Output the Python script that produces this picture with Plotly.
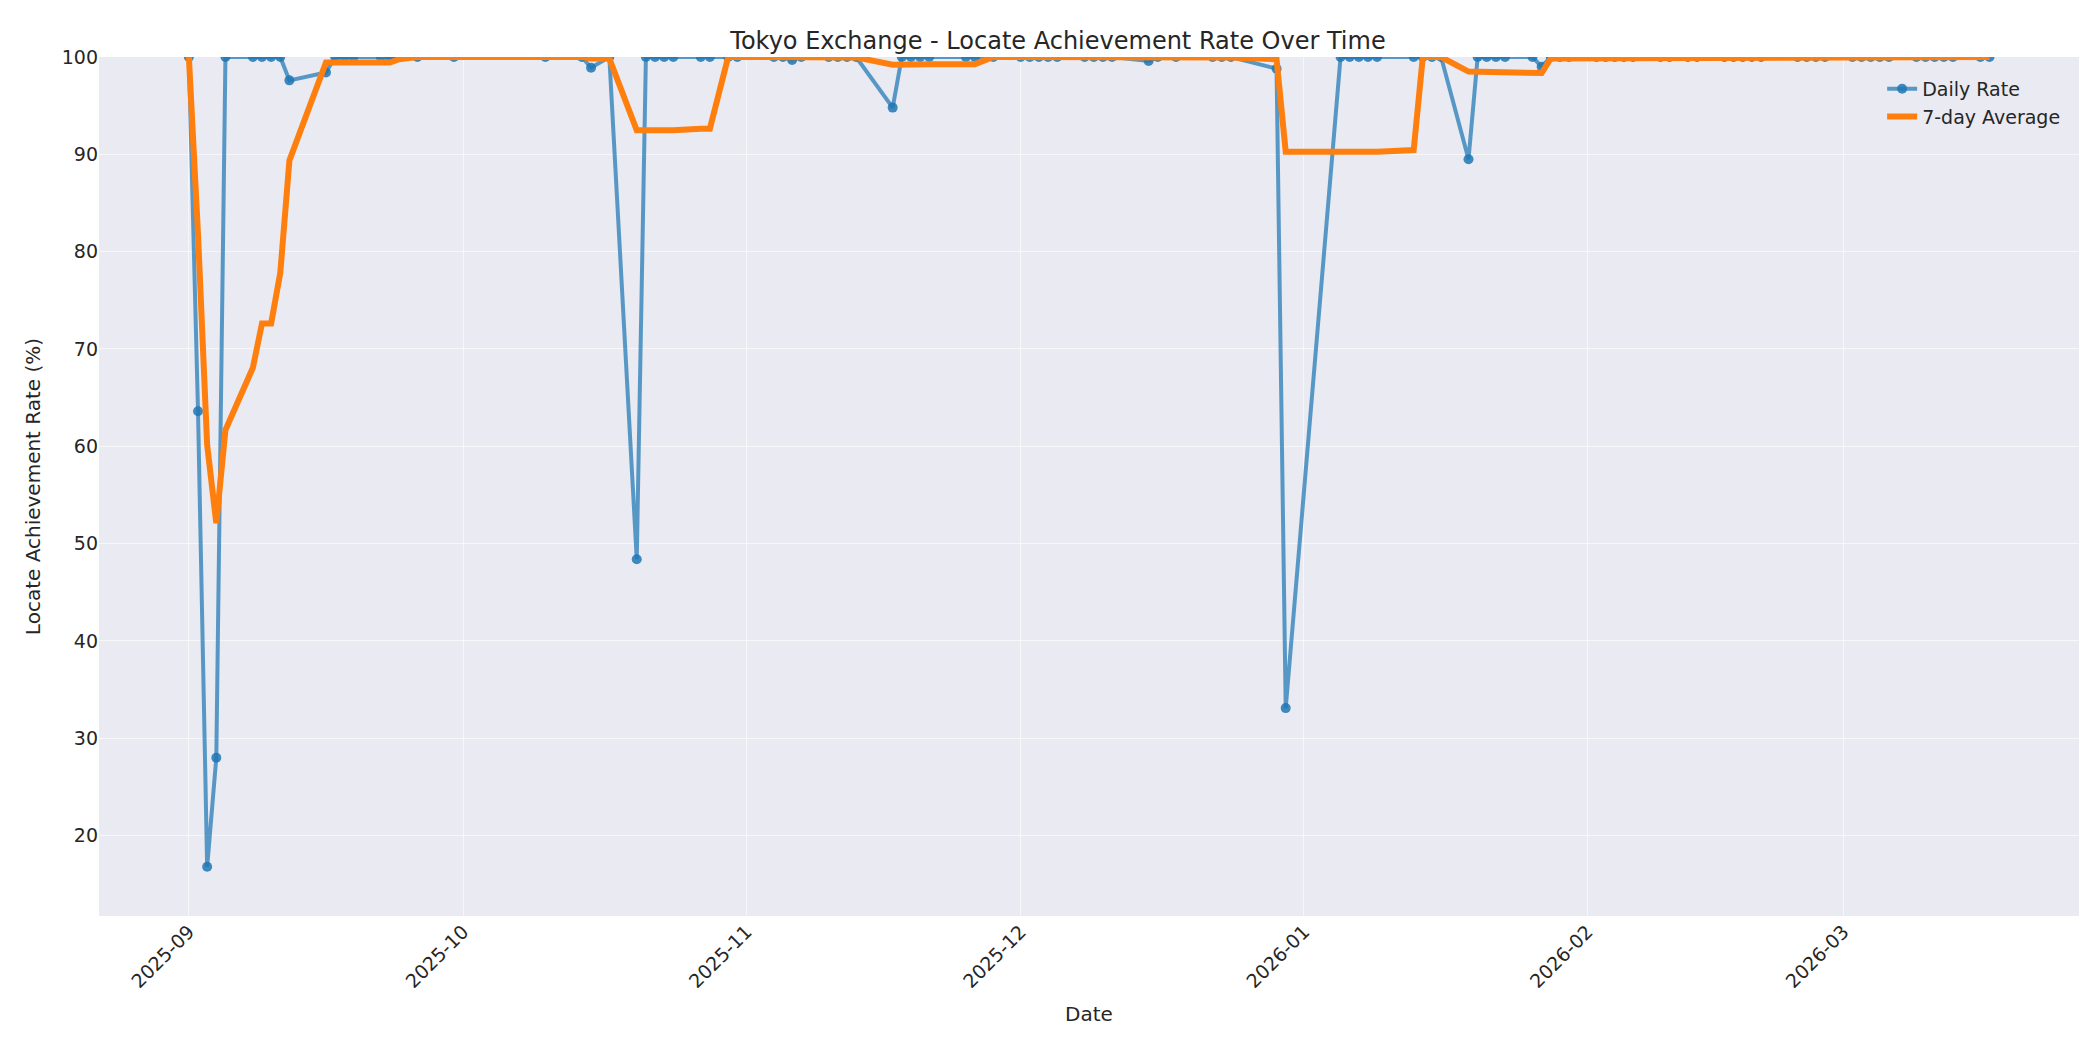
import pandas as pd
import plotly.graph_objects as go

dates = [
 "2025-09-01","2025-09-02","2025-09-03","2025-09-04","2025-09-05",
 "2025-09-08","2025-09-09","2025-09-10","2025-09-11","2025-09-12",
 "2025-09-16","2025-09-17","2025-09-18","2025-09-19","2025-09-22","2025-09-23","2025-09-24","2025-09-26","2025-09-30",
 "2025-10-10","2025-10-14","2025-10-15","2025-10-17",
 "2025-10-20","2025-10-21","2025-10-22","2025-10-23","2025-10-24","2025-10-27","2025-10-28","2025-10-30","2025-10-31",
 "2025-11-04","2025-11-05","2025-11-06","2025-11-07","2025-11-10","2025-11-11","2025-11-12","2025-11-13",
 "2025-11-17","2025-11-18","2025-11-19","2025-11-20","2025-11-21","2025-11-25","2025-11-26","2025-11-28",
 "2025-12-01","2025-12-02","2025-12-03","2025-12-04","2025-12-05","2025-12-08","2025-12-09","2025-12-10","2025-12-11",
 "2025-12-15","2025-12-16","2025-12-18","2025-12-22","2025-12-23","2025-12-24","2025-12-29","2025-12-30",
 "2026-01-05","2026-01-06","2026-01-07","2026-01-08","2026-01-09","2026-01-13","2026-01-14","2026-01-15","2026-01-16",
 "2026-01-19","2026-01-20","2026-01-21","2026-01-22","2026-01-23","2026-01-26","2026-01-27","2026-01-28","2026-01-29","2026-01-30",
 "2026-02-02","2026-02-03","2026-02-04","2026-02-05","2026-02-06","2026-02-09","2026-02-10","2026-02-12","2026-02-13",
 "2026-02-16","2026-02-17","2026-02-18","2026-02-19","2026-02-20","2026-02-24","2026-02-25","2026-02-26","2026-02-27",
 "2026-03-02","2026-03-03","2026-03-04","2026-03-05","2026-03-06","2026-03-09","2026-03-10","2026-03-11","2026-03-12","2026-03-13",
 "2026-03-16","2026-03-17",
]
rates = [
 100,63.6,16.8,28.0,100,
 100,100,100,100,97.6,
 98.4,100,100,100,100,100,100,100,100,
 100,100,98.9,100,
 48.4,100,100,100,100,100,100,100,100,
 100,100,99.7,100,100,100,100,100,
 94.8,100,100,100,100,100,100,100,
 100,100,100,100,100,100,100,100,100,
 99.6,100,100,100,100,100,98.8,33.1,
 100,100,100,100,100,100,100,100,100,
 89.5,100,100,100,100,100,99.0,100,100,100,
 100,100,100,100,100,100,100,100,100,
 100,100,100,100,100,100,100,100,100,
 100,100,100,100,100,100,100,100,100,100,
 100,100,
]

s = pd.Series(rates, index=pd.to_datetime(dates))
avg = s.rolling(7, min_periods=1).mean()

fig = go.Figure()
fig.add_trace(go.Scatter(x=s.index, y=s.values, mode="lines+markers", name="Daily Rate",
    line=dict(color="rgba(31,119,180,0.72)", width=4),
    marker=dict(color="rgba(31,119,180,0.85)", size=10)))
fig.add_trace(go.Scatter(x=avg.index, y=avg.values, mode="lines", name="7-day Average",
    line=dict(color="#ff7f0e", width=6)))

fig.update_layout(
    width=2100, height=1050,
    paper_bgcolor="white", plot_bgcolor="#eaeaf2",
    font=dict(family="DejaVu Sans", size=19, color="#262626"),
    title=dict(text="Tokyo Exchange - Locate Achievement Rate Over Time", x=0.5, xanchor="center",
               y=0.977, font=dict(size=24)),
    margin=dict(l=91, r=29, t=49, b=142),
    legend=dict(x=0.993, y=0.985, xanchor="right", yanchor="top", bgcolor="rgba(0,0,0,0)",
                font=dict(size=19)),
    showlegend=True,
)
fig.update_xaxes(title=dict(text="Date", font=dict(size=20)),
    range=["2025-08-22 04:00", "2026-03-26 19:00"],
    tickvals=["2025-09-01","2025-10-01","2025-11-01","2025-12-01","2026-01-01","2026-02-01","2026-03-01"],
    ticktext=["2025-09","2025-10","2025-11","2025-12","2026-01","2026-02","2026-03"],
    tickangle=-45, gridcolor="rgba(255,255,255,0.6)", gridwidth=1.3, zeroline=False, showline=False, ticks="")
fig.update_yaxes(title=dict(text="Locate Achievement Rate (%)", font=dict(size=20)),
    range=[11.74, 100], tickvals=[20,30,40,50,60,70,80,90,100],
    gridcolor="rgba(255,255,255,0.6)", gridwidth=1.3, zeroline=False, showline=False, ticks="")

fig.write_html("out.html")
